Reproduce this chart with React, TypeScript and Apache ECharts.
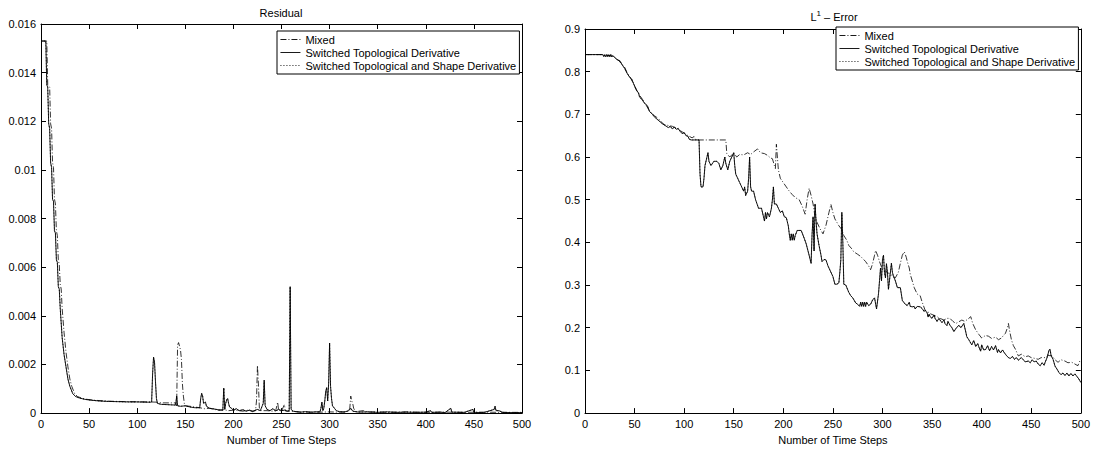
import React, { useEffect, useRef } from "react";
import * as echarts from "echarts";

const FONT = "'Liberation Sans', Arial, Helvetica, sans-serif";

const SERIES_NAMES = [
  "Mixed",
  "Switched Topological Derivative",
  "Switched Topological and Shape Derivative",
];
const TITLES = ["Residual", "L{sup|1} – Error"];
const X_NAME = "Number of Time Steps";

// ---------- Residual (left) ----------
const RES_TOPO_STEPS = [
  0, 5, 6, 7, 8, 9, 10, 11, 12, 13,
  14, 15, 16, 17, 18, 19, 20, 22, 24, 26,
  28, 30, 33, 36, 40, 45, 50, 60, 70, 80,
  90, 100, 110, 115, 116, 117, 118, 119, 120, 121,
  125, 130, 135, 140, 141, 142, 145, 150, 155, 160,
  165, 166, 167, 168, 169, 171, 172, 175, 180, 185,
  189, 190, 191, 192, 193, 194, 195, 196, 198, 200,
  203, 206, 210, 213, 217, 220, 225, 228, 230, 231,
  232, 233, 235, 238, 241, 244, 247, 250, 253, 256,
  258, 259, 260, 262, 265, 270, 275, 280, 285, 290,
  291, 292, 293, 294, 295, 296, 297, 298, 299, 300,
  301, 302, 303, 305, 307, 310, 315, 320, 322, 324,
  330, 340, 350, 360, 370, 380, 390, 400, 405, 406,
  415, 420, 426, 427, 440, 449, 450, 460, 471, 472,
  473, 476, 480, 490, 500,
];
const RES_TOPO = [
  0.0153, 0.0153, 0.0135, 0.0134, 0.0119, 0.0117, 0.0103, 0.0101, 0.0088, 0.0087,
  0.0075, 0.0074, 0.0063, 0.0062, 0.0052, 0.0051, 0.0043, 0.0031, 0.0024, 0.0019,
  0.0014, 0.0011, 0.0008, 0.00068, 0.00062, 0.00057, 0.00054, 0.0005, 0.00048, 0.00047,
  0.00046, 0.00046, 0.00045, 0.00045, 0.0016, 0.0023, 0.0021, 0.0013, 0.0006, 0.0004,
  0.00036, 0.00035, 0.00034, 0.00033, 0.0007, 0.0003, 0.00028, 0.0003, 0.00025, 0.00022,
  0.00022, 0.0006, 0.00081, 0.0007, 0.0004, 0.00045, 0.00028, 0.0002, 0.00017, 0.00013,
  0.00012, 0.00103, 0.00015, 0.0004, 0.00055, 0.0006, 0.0004, 0.00025, 0.0002, 0.00012,
  0.00018, 0.0001, 0.00014, 0.00008, 0.00012, 0.00008, 0.00015, 0.0001, 0.0003, 0.0004,
  0.00135, 0.0003, 0.00015, 0.0001, 0.00018, 0.00009, 0.00015, 0.0001, 0.00012, 0.00007,
  0.0001, 0.0052, 0.00015, 0.00008, 0.00006, 0.00004, 0.00006, 0.00003, 0.00005, 0.00005,
  0.0002, 0.00045, 0.0001, 0.0002, 0.0005, 0.0009, 0.00105, 0.0005, 0.0012, 0.00288,
  0.0011, 0.0006, 0.0003, 0.0002, 0.0001, 0.00006, 0.00004, 0.0001, 0.0002, 0.00008,
  0.00004, 0.00005, 0.00003, 0.00005, 0.00003, 0.00004, 0.00003, 0.00004, 0.0001, 0.00003,
  0.00004, 0.00002, 0.0002, 0.00004, 0.00003, 0.00015, 0.00003, 0.00002, 0.00015, 0.00028,
  0.0001, 0.0001, 0.00003, 0.00002, 0.00002,
];
const RES_MIX_STEPS = [
  0, 6, 7, 9, 10, 11, 12, 13, 14, 15,
  16, 17, 18, 19, 20, 21, 22, 24, 26, 28,
  30, 32, 35, 38, 42, 47, 55, 70, 90, 110,
  121, 125, 140, 141, 142, 143, 145, 146, 147, 148,
  149, 150, 155, 160, 165, 170, 175, 180, 185, 190,
  195, 200, 205, 210, 215, 220, 223, 224, 225, 226,
  227, 229, 235, 240, 244, 246, 247, 250, 253, 254,
  258, 265, 270, 280, 290, 300, 310, 318, 321, 322,
  323, 324, 325, 327, 335, 340, 350, 360, 380, 400,
  420, 440, 460, 480, 500,
];
const RES_MIX = [
  0.0153, 0.0153, 0.0135, 0.0134, 0.0119, 0.0117, 0.0103, 0.0101, 0.0088, 0.0086,
  0.0075, 0.0073, 0.0063, 0.0061, 0.0053, 0.0051, 0.0043, 0.0033, 0.0025, 0.0019,
  0.0014, 0.0011, 0.0008, 0.00068, 0.00062, 0.00057, 0.00053, 0.00049, 0.00047, 0.00046,
  0.00045, 0.00042, 0.00042, 0.0003, 0.0028, 0.0029, 0.0026, 0.0022, 0.0012, 0.0007,
  0.0004, 0.0003, 0.00028, 0.00025, 0.00022, 0.00018, 0.0002, 0.00015, 0.00012, 0.00014,
  0.0001, 0.00012, 0.0001, 0.00008, 0.00012, 0.00006, 0.0001, 0.0005, 0.00196, 0.0012,
  0.0002, 0.0001, 0.0001, 0.00008, 0.0001, 0.00045, 0.00012, 0.00008, 0.00035, 0.0001,
  0.00008, 0.00006, 0.00004, 0.00005, 0.00004, 0.00005, 0.00004, 0.00006, 0.0002, 0.0007,
  0.0005, 0.0004, 0.0002, 0.00006, 0.0001, 0.00004, 0.00005, 0.00003, 0.00005, 0.00003,
  0.00004, 0.00003, 0.00004, 0.00003, 0.00003,
];
// the shape-derivative run lies under the topological run
const RES_SHAPE_STEPS = RES_TOPO_STEPS;
const RES_SHAPE = RES_TOPO;

// ---------- L1 error (right) ----------
const ERR_TOPO_STEPS = [
  0, 18, 19, 20, 21, 22, 23, 24, 25, 26,
  27, 28, 30, 33, 35, 38, 40, 42, 45, 47,
  49, 52, 54, 55, 58, 60, 63, 65, 68, 70,
  73, 75, 78, 80, 82, 84, 86, 88, 90, 92,
  94, 96, 98, 100, 102, 104, 105, 107, 115, 116,
  117, 119, 120, 121, 123, 124, 125, 127, 130, 133,
  135, 137, 139, 141, 142, 144, 146, 148, 150, 151,
  152, 154, 156, 158, 160, 161, 162, 164, 165, 166,
  167, 168, 170, 172, 175, 178, 180, 181, 182, 183,
  184, 186, 188, 189, 190, 191, 193, 195, 197, 199,
  201, 203, 205, 206, 207, 208, 209, 210, 211, 212,
  214, 218, 221, 223, 226, 228, 229, 230, 231, 232,
  233, 234, 236, 238, 239, 241, 243, 245, 246, 248,
  250, 252, 254, 256, 257, 258, 259, 260, 261, 263,
  266, 268, 270, 273, 275, 277, 278, 279, 280, 281,
  282, 283, 284, 286, 288, 290, 292, 294, 296, 297,
  298, 299, 300, 301, 302, 303, 304, 305, 306, 308,
  309, 310, 311, 313, 315, 318, 320, 323, 325, 327,
  328, 330, 332, 333, 335, 338, 340, 342, 343, 345,
  346, 347, 348, 350, 352, 353, 355, 357, 358, 360,
  362, 363, 365, 366, 368, 370, 372, 374, 377, 379,
  382, 384, 385, 387, 388, 390, 392, 394, 396, 397,
  399, 400, 402, 404, 406, 408, 410, 412, 414, 416,
  417, 419, 421, 423, 425, 427, 429, 431, 433, 435,
  437, 440, 442, 444, 447, 449, 451, 453, 455, 457,
  459, 461, 463, 464, 466, 468, 469, 470, 472, 474,
  476, 478, 480, 482, 484, 486, 488, 490, 492, 494,
  496, 498, 500,
];
const ERR_TOPO = [
  0.84, 0.84, 0.835, 0.84, 0.835, 0.84, 0.835, 0.84, 0.835, 0.84,
  0.835, 0.838, 0.833, 0.827, 0.826, 0.814, 0.808, 0.798, 0.787, 0.783,
  0.772, 0.756, 0.75, 0.741, 0.733, 0.726, 0.72, 0.707, 0.7, 0.694,
  0.688, 0.684, 0.678, 0.675, 0.672, 0.669, 0.672, 0.666, 0.67, 0.665,
  0.667, 0.66, 0.655, 0.657, 0.65, 0.648, 0.642, 0.64, 0.64, 0.56,
  0.53, 0.53, 0.55, 0.58, 0.6, 0.61, 0.59, 0.58, 0.59, 0.59,
  0.585, 0.57, 0.58, 0.6, 0.585, 0.57, 0.59, 0.6, 0.61, 0.58,
  0.56, 0.55, 0.54, 0.53, 0.52, 0.53, 0.51, 0.52, 0.55, 0.6,
  0.53, 0.52, 0.52, 0.5, 0.48, 0.48, 0.46, 0.45, 0.47, 0.455,
  0.47, 0.46, 0.48, 0.5, 0.53, 0.49, 0.49, 0.48, 0.47, 0.474,
  0.46, 0.458, 0.439, 0.42, 0.405, 0.42, 0.405, 0.42, 0.405, 0.416,
  0.428, 0.428, 0.41, 0.397, 0.37, 0.351, 0.42, 0.46, 0.38, 0.49,
  0.45, 0.42, 0.393, 0.37, 0.355, 0.36, 0.359, 0.345, 0.34, 0.33,
  0.32, 0.302, 0.302, 0.305, 0.33, 0.36, 0.47, 0.4, 0.302, 0.3,
  0.283, 0.275, 0.27, 0.258, 0.255, 0.25, 0.26, 0.25, 0.26, 0.25,
  0.26, 0.25, 0.26, 0.252, 0.255, 0.265, 0.27, 0.244, 0.28, 0.31,
  0.34, 0.31, 0.36, 0.37, 0.33, 0.317, 0.35, 0.33, 0.29, 0.33,
  0.351, 0.33, 0.321, 0.31, 0.294, 0.294, 0.264, 0.255, 0.252, 0.26,
  0.25, 0.249, 0.25, 0.244, 0.25, 0.249, 0.245, 0.238, 0.241, 0.235,
  0.225, 0.232, 0.226, 0.222, 0.23, 0.222, 0.215, 0.222, 0.218, 0.212,
  0.218, 0.21, 0.205, 0.215, 0.206, 0.2, 0.191, 0.198, 0.206, 0.2,
  0.21, 0.19, 0.179, 0.172, 0.168, 0.16, 0.17, 0.156, 0.163, 0.156,
  0.145, 0.16, 0.148, 0.149, 0.158, 0.146, 0.156, 0.148, 0.158, 0.142,
  0.149, 0.141, 0.148, 0.141, 0.135, 0.13, 0.128, 0.133, 0.126, 0.13,
  0.124, 0.13, 0.125, 0.12, 0.122, 0.118, 0.125, 0.12, 0.122, 0.115,
  0.111, 0.118, 0.112, 0.119, 0.13, 0.148, 0.149, 0.135, 0.126, 0.11,
  0.103, 0.095, 0.09, 0.094, 0.088, 0.094, 0.087, 0.093, 0.087, 0.092,
  0.086, 0.08, 0.072,
];
const ERR_MIX_STEPS = [
  0, 18, 20, 24, 28, 31, 34, 37, 40, 43,
  46, 48, 50, 52, 55, 58, 61, 64, 67, 70,
  74, 77, 80, 84, 88, 92, 96, 100, 104, 108,
  110, 112, 142, 143, 146, 150, 153, 156, 160, 164,
  167, 170, 174, 177, 181, 184, 187, 189, 191, 192,
  193, 194, 195, 197, 200, 203, 206, 209, 212, 216,
  219, 222, 224, 226, 228, 230, 232, 234, 237, 240,
  243, 246, 248, 250, 252, 256, 259, 261, 264, 266,
  269, 271, 275, 278, 281, 283, 286, 288, 290, 292,
  293, 295, 297, 300, 303, 306, 310, 313, 316, 318,
  320, 322, 324, 325, 327, 328, 330, 332, 335, 338,
  340, 343, 346, 348, 351, 355, 358, 362, 365, 368,
  371, 374, 377, 380, 383, 386, 389, 391, 394, 397,
  400, 404, 407, 410, 414, 417, 420, 422, 424, 426,
  427, 428, 430, 432, 434, 437, 440, 444, 447, 450,
  454, 457, 460, 464, 467, 471, 474, 477, 480, 484,
  487, 491, 494, 497, 499, 500,
];
const ERR_MIX = [
  0.84, 0.84, 0.838, 0.838, 0.836, 0.832, 0.826, 0.818, 0.81, 0.795,
  0.785, 0.776, 0.766, 0.757, 0.745, 0.735, 0.724, 0.712, 0.703, 0.697,
  0.69, 0.682, 0.676, 0.674, 0.672, 0.668, 0.662, 0.656, 0.65, 0.645,
  0.648, 0.64, 0.64, 0.608, 0.6, 0.61, 0.6, 0.606, 0.605, 0.61,
  0.606, 0.612, 0.619, 0.61, 0.608, 0.604, 0.598, 0.596, 0.58, 0.573,
  0.63, 0.6, 0.57, 0.55, 0.54, 0.53, 0.52, 0.512, 0.505, 0.5,
  0.485, 0.466, 0.5, 0.527, 0.51, 0.49, 0.46, 0.447, 0.432, 0.42,
  0.44, 0.47, 0.489, 0.47, 0.455, 0.439, 0.43, 0.416, 0.405, 0.393,
  0.385, 0.378, 0.372, 0.367, 0.36, 0.355, 0.345, 0.336, 0.35, 0.37,
  0.381, 0.37, 0.355, 0.336, 0.333, 0.328, 0.322, 0.317, 0.33, 0.351,
  0.37, 0.378, 0.365, 0.355, 0.34, 0.325, 0.31, 0.294, 0.279, 0.275,
  0.26, 0.241, 0.237, 0.233, 0.23, 0.226, 0.222, 0.218, 0.222, 0.222,
  0.215, 0.21, 0.214, 0.218, 0.215, 0.22, 0.226, 0.21, 0.195, 0.185,
  0.176, 0.182, 0.18, 0.175, 0.178, 0.172, 0.176, 0.182, 0.187, 0.2,
  0.21, 0.195, 0.172, 0.158, 0.15, 0.134, 0.138, 0.132, 0.134, 0.13,
  0.128, 0.126, 0.13, 0.13, 0.135, 0.134, 0.125, 0.119, 0.125, 0.122,
  0.118, 0.119, 0.115, 0.111, 0.122, 0.118,
];
const ERR_SHAPE_STEPS = ERR_TOPO_STEPS;
const ERR_SHAPE = ERR_TOPO;

const RES_TICKS = { min: 0, max: 0.016, interval: 0.002 };
const ERR_TICKS = { min: 0, max: 0.9, interval: 0.1 };
const STEP_TICKS = { min: 0, max: 500, interval: 50 };

const pairs = (xs: number[], ys: number[]) => xs.map((x, i) => [x, ys[i]]);

const fmt = (v: number) => (v === 0 ? "0" : String(Number(v.toFixed(4))));

const GRIDS = [
  { left: 41, top: 24, width: 481, height: 397 },
  { left: 585, top: 29, width: 498, height: 392 },
];

const textStyle = { color: "#000", fontSize: 11, fontFamily: FONT };

function xAxes(gi: number) {
  const common = {
    type: "value",
    gridIndex: gi,
    ...STEP_TICKS,
    axisLine: { show: true, onZero: false, lineStyle: { color: "#000", width: 1 } },
    axisTick: { show: true, inside: true, length: 5, lineStyle: { color: "#000", width: 1 } },
    splitLine: { show: false },
  };
  return [
    {
      ...common,
      position: "bottom",
      axisLabel: { ...textStyle, margin: 5 },
      name: X_NAME,
      nameLocation: "middle",
      nameGap: 17,
      nameTextStyle: { ...textStyle },
    },
    { ...common, position: "top", axisLabel: { show: false } },
  ];
}

function yAxes(gi: number, ticks: { min: number; max: number; interval: number }) {
  const common = {
    type: "value",
    gridIndex: gi,
    ...ticks,
    axisLine: { show: true, onZero: false, lineStyle: { color: "#000", width: 1 } },
    axisTick: { show: true, inside: true, length: 5, lineStyle: { color: "#000", width: 1 } },
    splitLine: { show: false },
  };
  return [
    { ...common, position: "left", axisLabel: { ...textStyle, margin: 5, formatter: fmt } },
    { ...common, position: "right", axisLabel: { show: false } },
  ];
}

const LINE_STYLES = [
  { color: "#000", width: 0.8, type: [6, 2, 1, 2] },
  { color: "#000", width: 0.9, type: "solid" },
  { color: "#000", width: 0.8, type: [1, 2] },
];

function seriesFor(gi: number, data: number[][][]) {
  return data.map((d, k) => ({
    name: SERIES_NAMES[k],
    type: "line",
    xAxisIndex: gi * 2,
    yAxisIndex: gi * 2,
    data: d,
    showSymbol: false,
    symbol: "none",
    lineStyle: LINE_STYLES[k],
    itemStyle: { color: "#000" },
    emphasis: { disabled: true },
    z: 2 + k,
  }));
}

function legendAt(left: number, top: number) {
  return {
    data: SERIES_NAMES,
    orient: "vertical",
    left,
    top,
    padding: [2, 3, 2, 3],
    itemGap: 0,
    itemWidth: 20,
    itemHeight: 12,
    backgroundColor: "#fff",
    borderColor: "#000",
    borderWidth: 1,
    borderRadius: 0,
    selectedMode: false,
    itemStyle: { opacity: 0, color: "rgba(0,0,0,0)", borderWidth: 0 },
    lineStyle: { width: 0.9 },
    textStyle: { ...textStyle, lineHeight: 13 },
  };
}

export default function App() {
  const ref = useRef<HTMLDivElement>(null);
  useEffect(() => {
    if (!ref.current) return;
    const chart = echarts.init(ref.current, undefined, { renderer: "svg" });
    chart.setOption({
      animation: false,
      backgroundColor: "#fff",
      grid: GRIDS,
      xAxis: [...xAxes(0), ...xAxes(1)],
      yAxis: [...yAxes(0, RES_TICKS), ...yAxes(1, ERR_TICKS)],
      legend: [legendAt(277, 31), legendAt(836, 27)],
      graphic: [
        {
          type: "text",
          x: 281,
          y: 13,
          style: {
            text: TITLES[0],
            fill: "#000",
            font: `11px ${FONT}`,
            textAlign: "center",
            textVerticalAlign: "middle",
          },
        },
        {
          type: "text",
          x: 834,
          y: 17,
          style: {
            text: TITLES[1],
            fill: "#000",
            font: `11px ${FONT}`,
            textAlign: "center",
            textVerticalAlign: "middle",
            rich: {
              sup: { fontSize: 8, fontFamily: FONT, fill: "#000", padding: [0, 0, 7, 0] },
            },
          },
        },
      ],
      series: [
        ...seriesFor(0, [
          pairs(RES_MIX_STEPS, RES_MIX),
          pairs(RES_TOPO_STEPS, RES_TOPO),
          pairs(RES_SHAPE_STEPS, RES_SHAPE),
        ]),
        ...seriesFor(1, [
          pairs(ERR_MIX_STEPS, ERR_MIX),
          pairs(ERR_TOPO_STEPS, ERR_TOPO),
          pairs(ERR_SHAPE_STEPS, ERR_SHAPE),
        ]),
      ],
    });
    return () => chart.dispose();
  }, []);
  return (
    <div
      ref={ref}
      style={{ position: "fixed", left: 0, top: 0, width: 1093, height: 450, background: "#fff" }}
    />
  );
}
